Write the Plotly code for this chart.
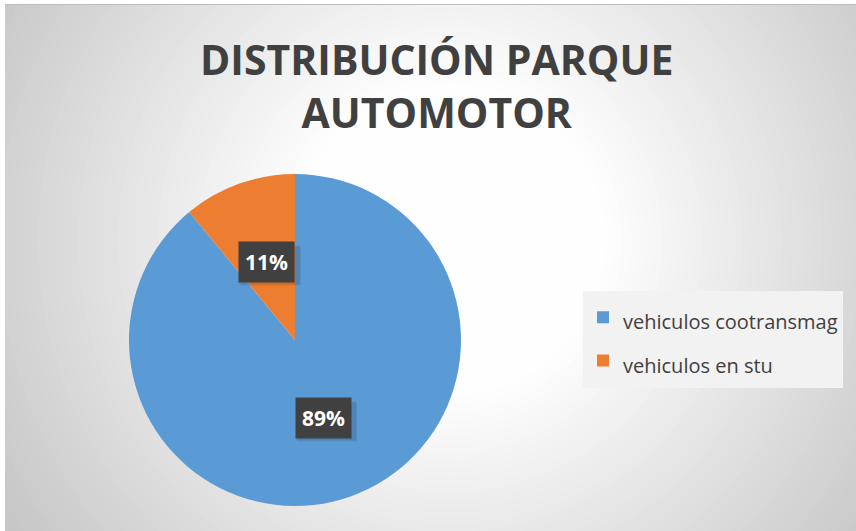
import math
import plotly.graph_objects as go

# ---- data ----
labels = ["vehiculos cootransmag", "vehiculos en stu"]
values = [89, 11]
colors = ["#5B9BD5", "#ED7D31"]
title_lines = ["DISTRIBUCIÓN PARQUE", "AUTOMOTOR"]

W, H = 856, 531

# pie geometry (pixels)
cx_px, cy_px, r_px = 295, 340, 166
dom_x = [(cx_px - r_px) / W, (cx_px + r_px) / W]
dom_y = [1 - (cy_px + r_px) / H, 1 - (cy_px - r_px) / H]

legend_labels = [f"<span style='font-size:20px'>{l}</span>" for l in labels]

fig = go.Figure()
fig.add_trace(go.Pie(
    labels=legend_labels, values=values, sort=False, direction="clockwise", rotation=0,
    marker=dict(colors=colors, line=dict(width=0)),
    textinfo="none", hoverinfo="label+percent",
    domain=dict(x=dom_x, y=dom_y),
))

# background: radial gradient (pixel-space circles)
shapes = [dict(type="rect", xref="paper", yref="paper", x0=0, x1=1, y0=0, y1=1,
               fillcolor="rgb(193,193,193)", line=dict(width=0), layer="below")]
gcx, gcy = 450, 240
r = 580
while r >= 150:
    c = int(round(255 - (r - 150) * 0.15))
    c = max(c, 193)
    shapes.append(dict(type="circle", xref="paper", yref="paper",
                       x0=(gcx - r) / W, x1=(gcx + r) / W,
                       y0=1 - (gcy + r) / H, y1=1 - (gcy - r) / H,
                       fillcolor=f"rgb({c},{c},{c})", line=dict(width=0), layer="below"))
    r -= 8
# white outer strips + top frame line
shapes.append(dict(type="rect", xref="paper", yref="paper", x0=0, x1=5 / W, y0=0, y1=1,
                   fillcolor="white", line=dict(width=0), layer="below"))
shapes.append(dict(type="rect", xref="paper", yref="paper", x0=0, x1=1, y0=1 - 4 / H, y1=1,
                   fillcolor="white", line=dict(width=0), layer="below"))
shapes.append(dict(type="line", xref="paper", yref="paper", x0=5 / W, x1=1, y0=1 - 4.5 / H, y1=1 - 4.5 / H,
                   line=dict(color="#bdbdbd", width=1), layer="below"))

# data labels at half radius along mid-angle of each slice
annotations = []
total = sum(values)
cum = 0
bw, bh = 60, 39
for v in values:
    mid = (cum + v / 2) / total * 2 * math.pi  # clockwise from 12 o'clock
    cum += v
    lx = cx_px + 0.5 * r_px * math.sin(mid)
    ly = cy_px - 0.5 * r_px * math.cos(mid)
    pct = f"{round(100 * v / total)}%"
    for k, a in ((4, 0.07), (3, 0.08)):
        shapes.append(dict(type="rect", xref="paper", yref="paper",
                           x0=(lx - bw / 2 + k) / W, x1=(lx + bw / 2 + k) / W,
                           y0=1 - (ly + bh / 2 + k) / H, y1=1 - (ly - bh / 2 + k) / H,
                           fillcolor=f"rgba(0,0,0,{a})", line=dict(width=0), layer="above"))
    annotations.append(dict(text=f"<b>{pct}</b>", bgcolor="#404040",
                            xref="paper", yref="paper", x=lx / W, y=1 - ly / H, showarrow=False,
                            xanchor="center", yanchor="middle", borderpad=6,
                            font=dict(family="Open Sans, sans-serif", size=21, color="white")))

# title
annotations.append(dict(text="<b>" + "<br>".join(title_lines) + "</b>",
                        xref="paper", yref="paper", x=436.5 / W, y=1 - 85 / H,
                        xanchor="center", yanchor="middle", showarrow=False,
                        font=dict(family="Open Sans, sans-serif", size=41, color="#404040")))

fig.update_layout(
    width=W, height=H,
    margin=dict(l=0, r=0, t=0, b=0),
    paper_bgcolor="white",
    legend=dict(x=583 / W, xanchor="left", y=1 - 339 / H, yanchor="middle",
                bgcolor="#f2f2f2", borderwidth=0,
                font=dict(family="Open Sans, sans-serif", size=31, color="#404040"),
                itemwidth=30),
    shapes=shapes,
    annotations=annotations,
)

fig.write_html("out.html")
